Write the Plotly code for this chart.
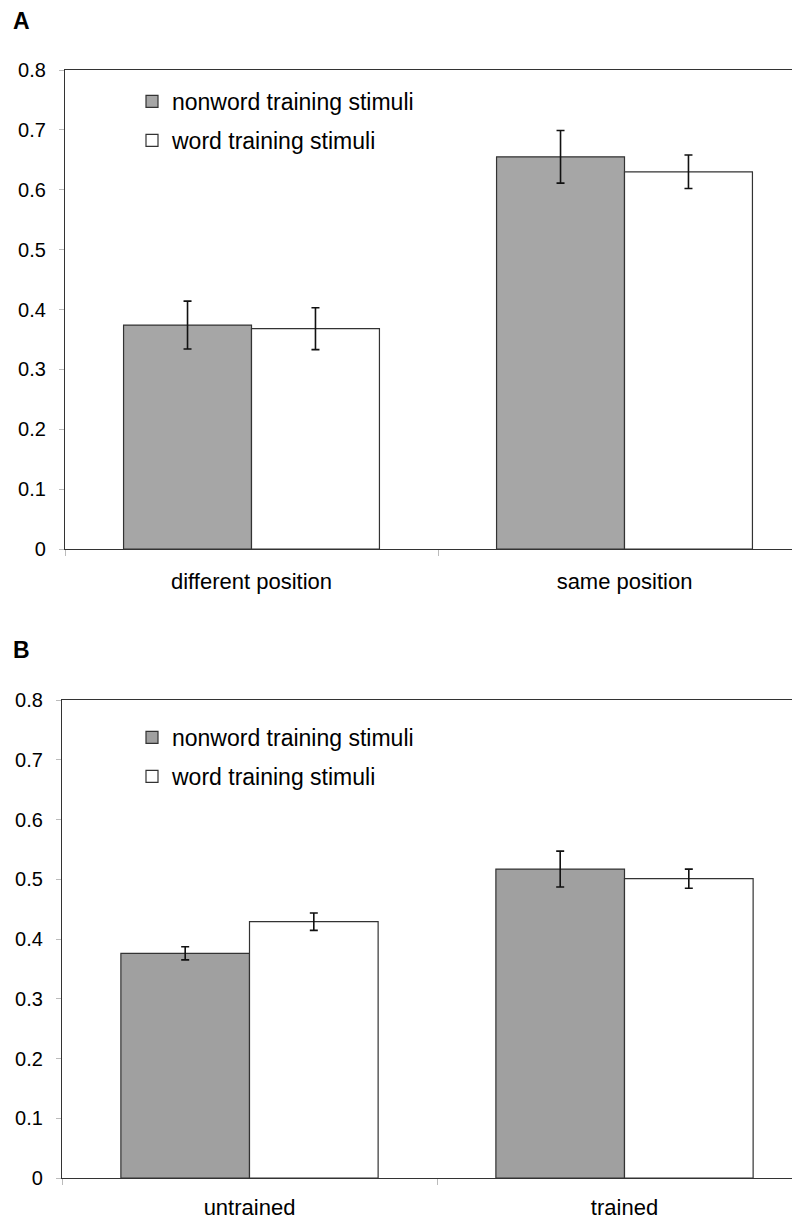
import plotly.graph_objects as go

W, H = 800, 1218
OFF = 8  # page body margin around the figure

# ---- data ----
cats_a = ["different position", "same position"]
nonword_a = [0.374, 0.655]
nonword_a_err = [0.040, 0.044]
word_a = [0.368, 0.630]
word_a_err = [0.035, 0.028]

cats_b = ["untrained", "trained"]
nonword_b = [0.376, 0.517]
nonword_b_err = [0.011, 0.030]
word_b = [0.429, 0.501]
word_b_err = [0.0145, 0.016]

series_names = ["nonword training stimuli", "word training stimuli"]
yticks = [0, 0.1, 0.2, 0.3, 0.4, 0.5, 0.6, 0.7, 0.8]

GRAY_A = "#a6a6a6"
GRAY_B = "#a0a0a0"
EDGE = "#333333"
FONT = "Liberation Sans, Arial, sans-serif"

def px_y(p):
    return 1 - (p - OFF) / H

def px_x(p):
    return (p - OFF) / W

fig = go.Figure()

def add_bars(cats, vals, errs, name, color, xa, ya, leg, group):
    fig.add_trace(go.Bar(
        x=cats, y=vals, name=name, xaxis=xa, yaxis=ya, legend=leg,
        legendgroup=group,
        marker=dict(color=color, line=dict(color=EDGE, width=1.2)),
        error_y=dict(type="data", array=errs, visible=True, color="#111111",
                     thickness=1.6, width=4),
    ))

add_bars(cats_a, nonword_a, nonword_a_err, series_names[0], GRAY_A, "x", "y", "legend", "a1")
add_bars(cats_a, word_a, word_a_err, series_names[1], "white", "x", "y", "legend", "a2")
add_bars(cats_b, nonword_b, nonword_b_err, series_names[0], GRAY_B, "x2", "y2", "legend2", "b1")
add_bars(cats_b, word_b, word_b_err, series_names[1], "white", "x2", "y2", "legend2", "b2")

def xaxis_cfg(left_px, cat_w, anchor, standoff):
    return dict(
        domain=[px_x(left_px), 1], anchor=anchor, type="category",
        range=[-0.5, -0.5 + (W + OFF - left_px) / cat_w],
        showline=True, linecolor=EDGE, linewidth=1.3, mirror=True,
        ticks="outside", tickson="boundaries", ticklen=6, tickcolor="#bbbbbb",
        tickfont=dict(family=FONT, size=22, color="black"),
        showgrid=False, zeroline=False, automargin=False,
        ticklabelstandoff=standoff,
    )

def yaxis_cfg(top_px, bot_px, anchor):
    return dict(
        domain=[px_y(bot_px), px_y(top_px)], anchor=anchor,
        range=[0, 0.8], tickvals=yticks,
        showline=True, linecolor=EDGE, linewidth=1.3, mirror=False,
        ticks="outside", ticklen=5, tickcolor="#bbbbbb",
        tickfont=dict(family=FONT, size=20, color="black"),
        showgrid=False, zeroline=False, automargin=False,
        ticklabelstandoff=9,
    )

legend_common = dict(
    font=dict(family=FONT, size=23, color="black"),
    bgcolor="rgba(0,0,0,0)", traceorder="grouped", tracegroupgap=6,
    xanchor="left", yanchor="top",
)

fig.update_layout(
    width=W, height=H,
    margin=dict(l=0, r=0, t=0, b=0, autoexpand=False),
    paper_bgcolor="white", plot_bgcolor="white",
    barmode="group", bargap=0.314, bargroupgap=0,
    xaxis=xaxis_cfg(65, 373, "y", 12),
    yaxis=yaxis_cfg(70, 549, "x"),
    xaxis2=xaxis_cfg(62, 375, "y2", 9),
    yaxis2=yaxis_cfg(700, 1178, "x2"),
    legend=dict(x=px_x(132), y=px_y(80), **legend_common),
    legend2=dict(x=px_x(132), y=px_y(716), **legend_common),
    annotations=[
        dict(text="<b>A</b>", x=px_x(11), y=px_y(21), xref="paper", yref="paper",
             xanchor="left", yanchor="middle", showarrow=False,
             font=dict(family=FONT, size=23, color="black")),
        dict(text="<b>B</b>", x=px_x(11), y=px_y(650), xref="paper", yref="paper",
             xanchor="left", yanchor="middle", showarrow=False,
             font=dict(family=FONT, size=23, color="black")),
    ],
)

fig.write_html("out.html")
